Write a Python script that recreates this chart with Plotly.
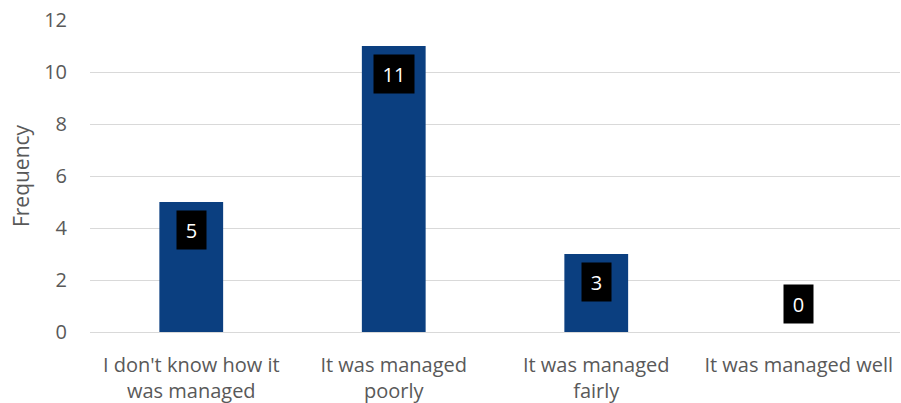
import plotly.graph_objects as go

categories = [
    "I don't know how it<br>was managed",
    "It was managed<br>poorly",
    "It was managed<br>fairly",
    "It was managed well",
]
frequency = [5, 11, 3, 0]

BAR_COLOR = "#0B3F80"
TEXT_COLOR = "#595959"
FONT = "Open Sans, Liberation Sans, sans-serif"

fig = go.Figure(
    go.Bar(
        x=categories,
        y=frequency,
        marker=dict(color=BAR_COLOR, line=dict(width=0)),
        width=0.315,
        hoverinfo="skip",
    )
)

# Value labels: white text on black boxes, just inside the top of each bar
for cat, val in zip(categories, frequency):
    label = str(val)
    fig.add_annotation(
        x=cat,
        y=val,
        text=label,
        showarrow=False,
        yanchor="top" if val > 0 else "bottom",
        yshift=-8 if val > 0 else 8,
        font=dict(family=FONT, size=20, color="white"),
        bgcolor="black",
        borderpad=0,
        width=18 + 11 * len(label),
        height=38,
        valign="middle",
    )

fig.update_layout(
    width=901,
    height=403,
    margin=dict(l=90, r=1, t=20, b=71),
    paper_bgcolor="white",
    plot_bgcolor="white",
    showlegend=False,
    font=dict(family=FONT, size=20, color=TEXT_COLOR),
)
fig.update_xaxes(
    automargin=False,
    showline=False,
    showgrid=False,
    ticks="",
    ticklabelstandoff=19,
    tickfont=dict(size=20, color=TEXT_COLOR),
)
fig.update_yaxes(
    range=[0, 12],
    dtick=2,
    showgrid=True,
    gridcolor="#D9D9D9",
    gridwidth=1,
    zeroline=True,
    zerolinecolor="#D9D9D9",
    zerolinewidth=1,
    showline=False,
    ticks="",
    ticklabelstandoff=22,
    tickfont=dict(size=20, color=TEXT_COLOR),
    title=dict(text="Frequency", font=dict(size=21, color=TEXT_COLOR), standoff=8),
)

fig.write_html("out.html")
